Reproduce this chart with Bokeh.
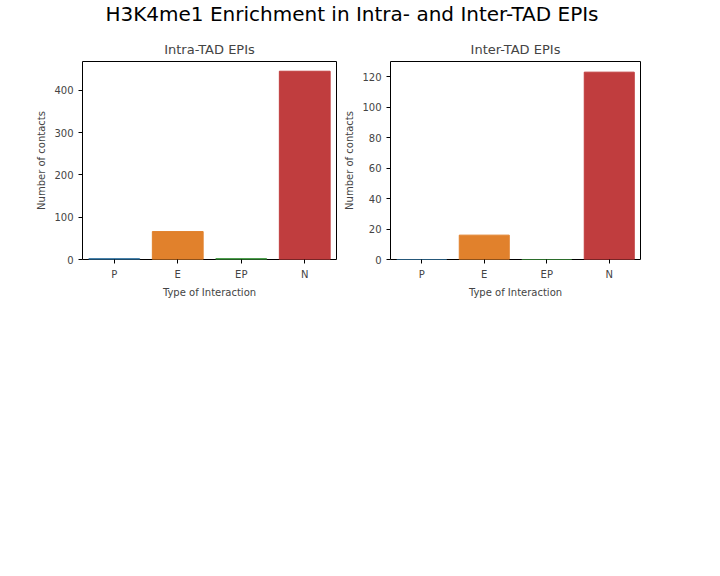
from bokeh.plotting import figure
from bokeh.models import Div, Range1d
from bokeh.layouts import column, row
from bokeh.embed import file_html
from bokeh.resources import INLINE

categories = ["P", "E", "EP", "N"]
intra_counts = [2, 66, 2, 445]
inter_counts = [0, 16, 0, 123]
colors = ["#3274a1", "#e1812c", "#3a923a", "#c03d3e"]

FONT = "DejaVu Sans"


def make_panel(title, counts, ymax, ticks, left, right):
    p = figure(width=left + 254 + right, height=31 + 198 + 45, x_range=categories,
               y_range=Range1d(0, ymax), output_backend="svg", toolbar_location=None,
               min_border_left=left, min_border_right=right,
               min_border_top=31, min_border_bottom=45)
    p.vbar(x=categories, top=counts, width=0.8, color=colors)
    p.title.text = title
    p.title.align = "center"
    p.title.text_font = FONT
    p.title.text_font_size = "13px"
    p.title.text_font_style = "normal"
    p.xgrid.visible = False
    p.ygrid.visible = False
    p.outline_line_color = "black"
    p.x_range.range_padding = 0
    p.yaxis.ticker = ticks
    p.yaxis.minor_tick_line_color = None
    p.xaxis.axis_label = "Type of Interaction"
    p.yaxis.axis_label = "Number of contacts"
    for ax in (p.xaxis, p.yaxis):
        ax.axis_label_text_font = FONT
        ax.axis_label_text_font_size = "10px"
        ax.axis_label_text_font_style = "normal"
        ax.major_label_text_font = FONT
        ax.major_label_text_font_size = "10px"
        ax.axis_line_color = None
        ax.major_tick_in = 0
        ax.major_tick_out = 4
        ax.axis_label_standoff = 4
    return p


p1 = make_panel("Intra-TAD EPIs", intra_counts, 468, [0, 100, 200, 300, 400], 82, 5)
p2 = make_panel("Inter-TAD EPIs", inter_counts, 130, [0, 20, 40, 60, 80, 100, 120], 45, 20)

header = Div(text="H3K4me1 Enrichment in Intra- and Inter-TAD EPIs", width=704, height=30,
             styles={"font-family": FONT, "font-size": "20px", "text-align": "center",
                     "width": "704px", "margin": "0"})

layout = column(header, row(p1, p2, spacing=0), spacing=0)
open("out.html", "w").write(file_html(layout, INLINE))
